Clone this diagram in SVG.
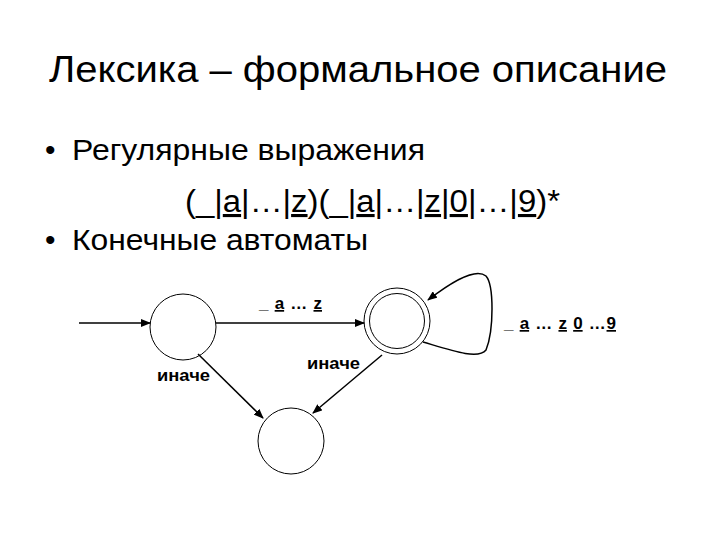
<svg xmlns="http://www.w3.org/2000/svg" width="720" height="540" viewBox="0 0 720 540">
<style>
text{font-family:"Liberation Sans",Arial,sans-serif;fill:#000}
.n{fill:none;stroke:#000;stroke-width:1}
.c{fill:none;stroke:#000;stroke-width:1.5}
.l{font-size:17px;font-weight:bold}
.u{text-decoration:underline}
</style>
<defs><marker id="a" markerWidth="10" markerHeight="8" refX="9" refY="4" orient="auto" markerUnits="userSpaceOnUse"><path d="M0,0L10,4L0,8z"/></marker></defs>
<rect width="720" height="540" fill="#fff"/>
<text x="358" y="82" font-size="36" text-anchor="middle" textLength="618" lengthAdjust="spacingAndGlyphs">Лексика – формальное описание</text>
<text x="45" y="160" font-size="30">•</text>
<text x="72" y="160" font-size="30" textLength="353" lengthAdjust="spacingAndGlyphs">Регулярные выражения</text>
<text x="185" y="212" font-size="31" textLength="375" lengthAdjust="spacingAndGlyphs">(_|<tspan class="u">a</tspan>|…|<tspan class="u">z</tspan>)(_|<tspan class="u">a</tspan>|…|<tspan class="u">z</tspan>|<tspan class="u">0</tspan>|…|<tspan class="u">9</tspan>)*</text>
<text x="45" y="250" font-size="30">•</text>
<text x="72" y="250" font-size="30" textLength="296" lengthAdjust="spacingAndGlyphs">Конечные автоматы</text>
<g id="s0"><ellipse class="n" cx="183" cy="327" rx="33" ry="33"/></g>
<g id="s1"><ellipse class="n" cx="397" cy="321" rx="33" ry="33"/><ellipse class="n" cx="397" cy="321" rx="27.5" ry="27.5"/></g>
<g id="s2"><ellipse class="n" cx="291" cy="441" rx="33" ry="33"/></g>
<g id="edges">
<line class="c" x1="79" y1="323" x2="150" y2="323" marker-end="url(#a)"/>
<line class="c" x1="216" y1="323" x2="364" y2="323" marker-end="url(#a)"/>
<path class="c" d="M423,342 C450,350 478,360 486,350 C494,330 494,285 486,276 C474,266 445,287 428,300" marker-end="url(#a)"/>
<line class="c" x1="198" y1="354" x2="263" y2="418" marker-end="url(#a)"/>
<line class="c" x1="382" y1="355" x2="313" y2="413" marker-end="url(#a)"/>
<text class="l" x="259" y="309" textLength="63" lengthAdjust="spacing">_ <tspan class="u">a</tspan> … <tspan class="u">z</tspan></text>
<text class="l" x="504" y="329" textLength="112" lengthAdjust="spacing">_ <tspan class="u">a</tspan> … <tspan class="u">z</tspan> <tspan class="u">0</tspan> …<tspan class="u">9</tspan></text>
<text class="l" x="157" y="381" textLength="53" lengthAdjust="spacingAndGlyphs">иначе</text>
<text class="l" x="307" y="369" textLength="53" lengthAdjust="spacingAndGlyphs">иначе</text>
</g>
</svg>
